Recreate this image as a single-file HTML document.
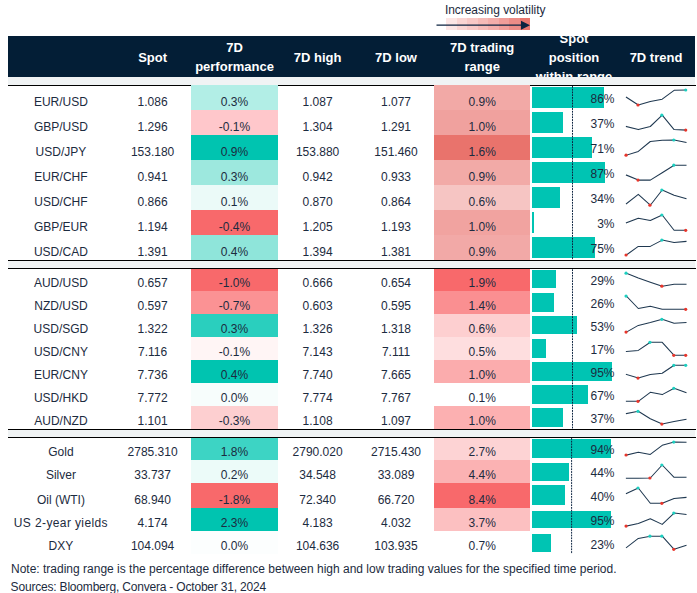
<!DOCTYPE html>
<html><head><meta charset="utf-8"><title>FX table</title>
<style>
html,body{margin:0;padding:0;background:#fff;}
body{width:697px;height:593px;position:relative;overflow:hidden;font-family:"Liberation Sans",sans-serif;color:#1c2b40;}
.c{position:absolute;}
.t{position:absolute;font-size:12px;line-height:14px;height:14px;white-space:nowrap;}
.h{position:absolute;font-size:13px;line-height:19px;font-weight:bold;color:#fff;text-align:center;white-space:nowrap;}
.hl{position:absolute;left:8px;width:688px;height:1.3px;background:#000;}
.gs{position:absolute;left:8px;width:687px;background:#F0F3F4;}
</style></head><body>
<div class="t" style="left:444.9px;top:3px;font-size:12px;color:#1d2a3d;letter-spacing:-0.04px">Increasing volatility</div>
<div class="c" style="left:446.0px;top:17.9px;width:10.6px;height:12.6px;background:#FCE6E5"></div><div class="c" style="left:456.5px;top:17.9px;width:10.6px;height:12.6px;background:#FAD5D3"></div><div class="c" style="left:467.0px;top:17.9px;width:10.6px;height:12.6px;background:#F8C8C6"></div><div class="c" style="left:477.5px;top:17.9px;width:10.6px;height:12.6px;background:#F5BAB7"></div><div class="c" style="left:488.0px;top:17.9px;width:10.6px;height:12.6px;background:#F3ADAA"></div><div class="c" style="left:498.5px;top:17.9px;width:10.6px;height:12.6px;background:#F09D99"></div><div class="c" style="left:509.0px;top:17.9px;width:10.6px;height:12.6px;background:#ED8C87"></div><div class="c" style="left:519.5px;top:17.9px;width:10.6px;height:12.6px;background:#E9766F"></div>
<svg width="110" height="16" viewBox="0 0 110 16" style="position:absolute;left:430px;top:17.3px"><line x1="6.5" y1="8.2" x2="93" y2="8.2" stroke="#0C2340" stroke-width="1.3"/><polygon points="91,3.7 100,8.2 91,12.7" fill="#0C2340"/></svg>
<div class="c" id="hdr" style="left:8px;top:36px;width:687px;height:40.8px;background:#031E36;overflow:hidden">
 <div class="h" style="left:84.6px;top:11.6px;width:120px">Spot</div>
 <div class="h" style="left:166.5px;top:1.5px;width:120px">7D<br>performance</div>
 <div class="h" style="left:249.6px;top:11.6px;width:120px">7D high</div>
 <div class="h" style="left:328px;top:11.6px;width:120px">7D low</div>
 <div class="h" style="left:414.2px;top:1.5px;width:120px">7D trading<br>range</div>
 <div class="h" style="left:506px;top:-7px;width:120px">Spot<br>position<br>within range</div>
 <div class="h" style="left:588px;top:11.6px;width:120px">7D trend</div>
</div>
<div class="gs" style="top:77.4px;height:7.4px"></div>
<div class="hl" style="top:84.9px"></div>
<div class="c" style="left:191px;top:85.20px;width:87px;height:24.97px;background:#B2EEE6"></div>
<div class="c" style="left:434px;top:85.20px;width:95.8px;height:24.97px;background:#F2A9A6"></div>
<div class="c" style="left:532px;top:86.90px;width:72.24px;height:20.80px;background:#00C4B3"></div>
<div class="t" style="left:0.9px;top:95px;width:120px;text-align:center">EUR/USD</div>
<div class="t" style="left:92.6px;top:95px;width:120px;text-align:center">1.086</div>
<div class="t" style="left:174.5px;top:95px;width:120px;text-align:center">0.3%</div>
<div class="t" style="left:257.6px;top:95px;width:120px;text-align:center">1.087</div>
<div class="t" style="left:336.0px;top:95px;width:120px;text-align:center">1.077</div>
<div class="t" style="left:422.2px;top:95px;width:120px;text-align:center">0.9%</div>
<div class="t" style="left:514px;top:92px;width:100.5px;text-align:right">86%</div>
<div class="c" style="left:191px;top:110.17px;width:87px;height:24.97px;background:#FFC7CB"></div>
<div class="c" style="left:434px;top:110.17px;width:95.8px;height:24.97px;background:#F0A19E"></div>
<div class="c" style="left:532px;top:111.90px;width:31.08px;height:20.80px;background:#00C4B3"></div>
<div class="t" style="left:0.9px;top:120px;width:120px;text-align:center">GBP/USD</div>
<div class="t" style="left:92.6px;top:120px;width:120px;text-align:center">1.296</div>
<div class="t" style="left:174.5px;top:120px;width:120px;text-align:center">-0.1%</div>
<div class="t" style="left:257.6px;top:120px;width:120px;text-align:center">1.304</div>
<div class="t" style="left:336.0px;top:120px;width:120px;text-align:center">1.291</div>
<div class="t" style="left:422.2px;top:120px;width:120px;text-align:center">1.0%</div>
<div class="t" style="left:514px;top:117px;width:100.5px;text-align:right">37%</div>
<div class="c" style="left:191px;top:135.14px;width:87px;height:24.97px;background:#00C4B0"></div>
<div class="c" style="left:434px;top:135.14px;width:95.8px;height:24.97px;background:#E9736C"></div>
<div class="c" style="left:532px;top:136.90px;width:59.64px;height:20.80px;background:#00C4B3"></div>
<div class="t" style="left:0.9px;top:145px;width:120px;text-align:center">USD/JPY</div>
<div class="t" style="left:92.6px;top:145px;width:120px;text-align:center">153.180</div>
<div class="t" style="left:174.5px;top:145px;width:120px;text-align:center">0.9%</div>
<div class="t" style="left:257.6px;top:145px;width:120px;text-align:center">153.880</div>
<div class="t" style="left:336.0px;top:145px;width:120px;text-align:center">151.460</div>
<div class="t" style="left:422.2px;top:145px;width:120px;text-align:center">1.6%</div>
<div class="t" style="left:514px;top:142px;width:100.5px;text-align:right">71%</div>
<div class="c" style="left:191px;top:160.11px;width:87px;height:24.97px;background:#9DE8DE"></div>
<div class="c" style="left:434px;top:160.11px;width:95.8px;height:24.97px;background:#F2AAA7"></div>
<div class="c" style="left:532px;top:161.90px;width:73.08px;height:20.80px;background:#00C4B3"></div>
<div class="t" style="left:0.9px;top:170px;width:120px;text-align:center">EUR/CHF</div>
<div class="t" style="left:92.6px;top:170px;width:120px;text-align:center">0.941</div>
<div class="t" style="left:174.5px;top:170px;width:120px;text-align:center">0.3%</div>
<div class="t" style="left:257.6px;top:170px;width:120px;text-align:center">0.942</div>
<div class="t" style="left:336.0px;top:170px;width:120px;text-align:center">0.933</div>
<div class="t" style="left:422.2px;top:170px;width:120px;text-align:center">0.9%</div>
<div class="t" style="left:514px;top:167px;width:100.5px;text-align:right">87%</div>
<div class="c" style="left:191px;top:185.08px;width:87px;height:24.97px;background:#EBFAF8"></div>
<div class="c" style="left:434px;top:185.08px;width:95.8px;height:24.97px;background:#F6C5C3"></div>
<div class="c" style="left:532px;top:186.90px;width:27.90px;height:20.80px;background:#00C4B3"></div>
<div class="t" style="left:0.9px;top:195px;width:120px;text-align:center">USD/CHF</div>
<div class="t" style="left:92.6px;top:195px;width:120px;text-align:center">0.866</div>
<div class="t" style="left:174.5px;top:195px;width:120px;text-align:center">0.1%</div>
<div class="t" style="left:257.6px;top:195px;width:120px;text-align:center">0.870</div>
<div class="t" style="left:336.0px;top:195px;width:120px;text-align:center">0.864</div>
<div class="t" style="left:422.2px;top:195px;width:120px;text-align:center">0.6%</div>
<div class="t" style="left:514px;top:192px;width:100.5px;text-align:right">34%</div>
<div class="c" style="left:191px;top:210.05px;width:87px;height:24.97px;background:#F8696B"></div>
<div class="c" style="left:434px;top:210.05px;width:95.8px;height:24.97px;background:#F1A3A0"></div>
<div class="c" style="left:532px;top:211.90px;width:2.00px;height:20.80px;background:#00C4B3"></div>
<div class="t" style="left:0.9px;top:220px;width:120px;text-align:center">GBP/EUR</div>
<div class="t" style="left:92.6px;top:220px;width:120px;text-align:center">1.194</div>
<div class="t" style="left:174.5px;top:220px;width:120px;text-align:center">-0.4%</div>
<div class="t" style="left:257.6px;top:220px;width:120px;text-align:center">1.205</div>
<div class="t" style="left:336.0px;top:220px;width:120px;text-align:center">1.193</div>
<div class="t" style="left:422.2px;top:220px;width:120px;text-align:center">1.0%</div>
<div class="t" style="left:514px;top:217px;width:100.5px;text-align:right">3%</div>
<div class="c" style="left:191px;top:235.02px;width:87px;height:24.97px;background:#8FE5DA"></div>
<div class="c" style="left:434px;top:235.02px;width:95.8px;height:24.97px;background:#F2A9A7"></div>
<div class="c" style="left:532px;top:236.90px;width:63.00px;height:20.80px;background:#00C4B3"></div>
<div class="t" style="left:0.9px;top:245px;width:120px;text-align:center">USD/CAD</div>
<div class="t" style="left:92.6px;top:245px;width:120px;text-align:center">1.391</div>
<div class="t" style="left:174.5px;top:245px;width:120px;text-align:center">0.4%</div>
<div class="t" style="left:257.6px;top:245px;width:120px;text-align:center">1.394</div>
<div class="t" style="left:336.0px;top:245px;width:120px;text-align:center">1.381</div>
<div class="t" style="left:422.2px;top:245px;width:120px;text-align:center">0.9%</div>
<div class="t" style="left:514px;top:242px;width:100.5px;text-align:right">75%</div>
<div class="c" style="left:191px;top:268.80px;width:87px;height:22.00px;background:#F8696B"></div>
<div class="c" style="left:434px;top:268.80px;width:95.8px;height:22.00px;background:#F8696B"></div>
<div class="c" style="left:532px;top:270.10px;width:24.36px;height:18.20px;background:#00C4B3"></div>
<div class="t" style="left:0.9px;top:276px;width:120px;text-align:center">AUD/USD</div>
<div class="t" style="left:92.6px;top:276px;width:120px;text-align:center">0.657</div>
<div class="t" style="left:174.5px;top:276px;width:120px;text-align:center">-1.0%</div>
<div class="t" style="left:257.6px;top:276px;width:120px;text-align:center">0.666</div>
<div class="t" style="left:336.0px;top:276px;width:120px;text-align:center">0.654</div>
<div class="t" style="left:422.2px;top:276px;width:120px;text-align:center">1.9%</div>
<div class="t" style="left:514px;top:274px;width:100.5px;text-align:right">29%</div>
<div class="c" style="left:191px;top:290.80px;width:87px;height:23.10px;background:#FB9294"></div>
<div class="c" style="left:434px;top:290.80px;width:95.8px;height:23.10px;background:#FA8F91"></div>
<div class="c" style="left:532px;top:293.10px;width:21.84px;height:18.60px;background:#00C4B3"></div>
<div class="t" style="left:0.9px;top:299px;width:120px;text-align:center">NZD/USD</div>
<div class="t" style="left:92.6px;top:299px;width:120px;text-align:center">0.597</div>
<div class="t" style="left:174.5px;top:299px;width:120px;text-align:center">-0.7%</div>
<div class="t" style="left:257.6px;top:299px;width:120px;text-align:center">0.603</div>
<div class="t" style="left:336.0px;top:299px;width:120px;text-align:center">0.595</div>
<div class="t" style="left:422.2px;top:299px;width:120px;text-align:center">1.4%</div>
<div class="t" style="left:514px;top:297px;width:100.5px;text-align:right">26%</div>
<div class="c" style="left:191px;top:313.90px;width:87px;height:23.10px;background:#2ACFBE"></div>
<div class="c" style="left:434px;top:313.90px;width:95.8px;height:23.10px;background:#FDCFD0"></div>
<div class="c" style="left:532px;top:316.20px;width:44.52px;height:18.30px;background:#00C4B3"></div>
<div class="t" style="left:0.9px;top:322px;width:120px;text-align:center">USD/SGD</div>
<div class="t" style="left:92.6px;top:322px;width:120px;text-align:center">1.322</div>
<div class="t" style="left:174.5px;top:322px;width:120px;text-align:center">0.3%</div>
<div class="t" style="left:257.6px;top:322px;width:120px;text-align:center">1.326</div>
<div class="t" style="left:336.0px;top:322px;width:120px;text-align:center">1.318</div>
<div class="t" style="left:422.2px;top:322px;width:120px;text-align:center">0.6%</div>
<div class="t" style="left:514px;top:320px;width:100.5px;text-align:right">53%</div>
<div class="c" style="left:191px;top:337.00px;width:87px;height:23.10px;background:#FFF5F5"></div>
<div class="c" style="left:434px;top:337.00px;width:95.8px;height:23.10px;background:#FEDEDF"></div>
<div class="c" style="left:532px;top:339.30px;width:14.28px;height:18.30px;background:#00C4B3"></div>
<div class="t" style="left:0.9px;top:345px;width:120px;text-align:center">USD/CNY</div>
<div class="t" style="left:92.6px;top:345px;width:120px;text-align:center">7.116</div>
<div class="t" style="left:174.5px;top:345px;width:120px;text-align:center">-0.1%</div>
<div class="t" style="left:257.6px;top:345px;width:120px;text-align:center">7.143</div>
<div class="t" style="left:336.0px;top:345px;width:120px;text-align:center">7.111</div>
<div class="t" style="left:422.2px;top:345px;width:120px;text-align:center">0.5%</div>
<div class="t" style="left:514px;top:343px;width:100.5px;text-align:right">17%</div>
<div class="c" style="left:191px;top:360.10px;width:87px;height:23.10px;background:#00C4B0"></div>
<div class="c" style="left:434px;top:360.10px;width:95.8px;height:23.10px;background:#FBACAD"></div>
<div class="c" style="left:532px;top:362.40px;width:79.80px;height:18.20px;background:#00C4B3"></div>
<div class="t" style="left:0.9px;top:368px;width:120px;text-align:center">EUR/CNY</div>
<div class="t" style="left:92.6px;top:368px;width:120px;text-align:center">7.736</div>
<div class="t" style="left:174.5px;top:368px;width:120px;text-align:center">0.4%</div>
<div class="t" style="left:257.6px;top:368px;width:120px;text-align:center">7.740</div>
<div class="t" style="left:336.0px;top:368px;width:120px;text-align:center">7.665</div>
<div class="t" style="left:422.2px;top:368px;width:120px;text-align:center">1.0%</div>
<div class="t" style="left:514px;top:366px;width:100.5px;text-align:right">95%</div>
<div class="c" style="left:191px;top:383.20px;width:87px;height:23.10px;background:#F7FDFC"></div>
<div class="c" style="left:434px;top:383.20px;width:95.8px;height:23.10px;background:#FFFFFF"></div>
<div class="c" style="left:532px;top:385.40px;width:56.28px;height:18.30px;background:#00C4B3"></div>
<div class="t" style="left:0.9px;top:391px;width:120px;text-align:center">USD/HKD</div>
<div class="t" style="left:92.6px;top:391px;width:120px;text-align:center">7.772</div>
<div class="t" style="left:174.5px;top:391px;width:120px;text-align:center">0.0%</div>
<div class="t" style="left:257.6px;top:391px;width:120px;text-align:center">7.774</div>
<div class="t" style="left:336.0px;top:391px;width:120px;text-align:center">7.767</div>
<div class="t" style="left:422.2px;top:391px;width:120px;text-align:center">0.1%</div>
<div class="t" style="left:514px;top:389px;width:100.5px;text-align:right">67%</div>
<div class="c" style="left:191px;top:406.30px;width:87px;height:22.70px;background:#FDCFD0"></div>
<div class="c" style="left:434px;top:406.30px;width:95.8px;height:22.70px;background:#FCB0B1"></div>
<div class="c" style="left:532px;top:408.20px;width:31.08px;height:18.60px;background:#00C4B3"></div>
<div class="t" style="left:0.9px;top:414px;width:120px;text-align:center">AUD/NZD</div>
<div class="t" style="left:92.6px;top:414px;width:120px;text-align:center">1.101</div>
<div class="t" style="left:174.5px;top:414px;width:120px;text-align:center">-0.3%</div>
<div class="t" style="left:257.6px;top:414px;width:120px;text-align:center">1.108</div>
<div class="t" style="left:336.0px;top:414px;width:120px;text-align:center">1.097</div>
<div class="t" style="left:422.2px;top:414px;width:120px;text-align:center">1.0%</div>
<div class="t" style="left:514px;top:412px;width:100.5px;text-align:right">37%</div>
<div class="c" style="left:191px;top:437.90px;width:87px;height:21.90px;background:#3DD4C4"></div>
<div class="c" style="left:434px;top:437.90px;width:95.8px;height:21.90px;background:#FDD3D4"></div>
<div class="c" style="left:532px;top:439.30px;width:78.80px;height:18.30px;background:#00C4B3"></div>
<div class="t" style="left:0.9px;top:445px;width:120px;text-align:center">Gold</div>
<div class="t" style="left:92.6px;top:445px;width:120px;text-align:center">2785.310</div>
<div class="t" style="left:174.5px;top:445px;width:120px;text-align:center">1.8%</div>
<div class="t" style="left:257.6px;top:445px;width:120px;text-align:center">2790.020</div>
<div class="t" style="left:336.0px;top:445px;width:120px;text-align:center">2715.430</div>
<div class="t" style="left:422.2px;top:445px;width:120px;text-align:center">2.7%</div>
<div class="t" style="left:514px;top:443px;width:100.5px;text-align:right">94%</div>
<div class="c" style="left:191px;top:459.80px;width:87px;height:23.20px;background:#ECFBF9"></div>
<div class="c" style="left:434px;top:459.80px;width:95.8px;height:23.20px;background:#FBB2B3"></div>
<div class="c" style="left:532px;top:462.60px;width:36.96px;height:18.10px;background:#00C4B3"></div>
<div class="t" style="left:0.9px;top:468px;width:120px;text-align:center">Silver</div>
<div class="t" style="left:92.6px;top:468px;width:120px;text-align:center">33.737</div>
<div class="t" style="left:174.5px;top:468px;width:120px;text-align:center">0.2%</div>
<div class="t" style="left:257.6px;top:468px;width:120px;text-align:center">34.548</div>
<div class="t" style="left:336.0px;top:468px;width:120px;text-align:center">33.089</div>
<div class="t" style="left:422.2px;top:468px;width:120px;text-align:center">4.4%</div>
<div class="t" style="left:514px;top:466px;width:100.5px;text-align:right">44%</div>
<div class="c" style="left:191px;top:483.00px;width:87px;height:24.70px;background:#F8696B"></div>
<div class="c" style="left:434px;top:483.00px;width:95.8px;height:24.70px;background:#F8696B"></div>
<div class="c" style="left:532px;top:485.40px;width:32.90px;height:20.10px;background:#00C4B3"></div>
<div class="t" style="left:0.9px;top:493px;width:120px;text-align:center">Oil (WTI)</div>
<div class="t" style="left:92.6px;top:493px;width:120px;text-align:center">68.940</div>
<div class="t" style="left:174.5px;top:493px;width:120px;text-align:center">-1.8%</div>
<div class="t" style="left:257.6px;top:493px;width:120px;text-align:center">72.340</div>
<div class="t" style="left:336.0px;top:493px;width:120px;text-align:center">66.720</div>
<div class="t" style="left:422.2px;top:493px;width:120px;text-align:center">8.4%</div>
<div class="t" style="left:514px;top:490px;width:100.5px;text-align:right">40%</div>
<div class="c" style="left:191px;top:507.70px;width:87px;height:23.30px;background:#00C4B0"></div>
<div class="c" style="left:434px;top:507.70px;width:95.8px;height:23.30px;background:#FCC0C1"></div>
<div class="c" style="left:532px;top:510.70px;width:78.80px;height:17.80px;background:#00C4B3"></div>
<div class="t" style="left:0.9px;top:516px;width:120px;text-align:center"><span style="letter-spacing:0.38px">US 2-year yields</span></div>
<div class="t" style="left:92.6px;top:516px;width:120px;text-align:center">4.174</div>
<div class="t" style="left:174.5px;top:516px;width:120px;text-align:center">2.3%</div>
<div class="t" style="left:257.6px;top:516px;width:120px;text-align:center">4.183</div>
<div class="t" style="left:336.0px;top:516px;width:120px;text-align:center">4.032</div>
<div class="t" style="left:422.2px;top:516px;width:120px;text-align:center">3.7%</div>
<div class="t" style="left:514px;top:514px;width:100.5px;text-align:right">95%</div>
<div class="c" style="left:191px;top:531.00px;width:87px;height:22.80px;background:#FCFEFE"></div>
<div class="c" style="left:434px;top:531.00px;width:95.8px;height:22.80px;background:#FFFFFF"></div>
<div class="c" style="left:532px;top:533.50px;width:19.32px;height:18.40px;background:#00C4B3"></div>
<div class="t" style="left:0.9px;top:539px;width:120px;text-align:center">DXY</div>
<div class="t" style="left:92.6px;top:539px;width:120px;text-align:center">104.094</div>
<div class="t" style="left:174.5px;top:539px;width:120px;text-align:center">0.0%</div>
<div class="t" style="left:257.6px;top:539px;width:120px;text-align:center">104.636</div>
<div class="t" style="left:336.0px;top:539px;width:120px;text-align:center">103.935</div>
<div class="t" style="left:422.2px;top:539px;width:120px;text-align:center">0.7%</div>
<div class="t" style="left:514px;top:538px;width:100.5px;text-align:right">23%</div>
<div class="hl" style="top:259.9px"></div>
<div class="gs" style="top:261.3px;height:6.5px"></div>
<div class="hl" style="top:267.9px"></div>
<div class="hl" style="top:428.9px"></div>
<div class="gs" style="top:430.3px;height:6.6px"></div>
<div class="hl" style="top:436.7px"></div>
<svg width="697" height="593" viewBox="0 0 697 593" style="position:absolute;left:0;top:0"><g stroke="#0C2340" stroke-width="1" stroke-dasharray="1.8 0.96"><line x1="572.5" y1="86" x2="572.5" y2="260"/><line x1="572.5" y1="269.3" x2="572.5" y2="429"/><line x1="571.6" y1="438" x2="571.6" y2="554"/></g></svg>
<svg class="sp" width="697" height="593" viewBox="0 0 697 593" style="position:absolute;left:0;top:0">
<polyline points="626.4,97.3 638.3,105.0 650.3,101.4 662.2,99.2 674.1,90.3 686.0,90.0" fill="none" stroke="#1F3850" stroke-width="1.05" stroke-linejoin="round" stroke-linecap="square"/>
<circle cx="637.98" cy="105.0" r="1.6" fill="#E8352B"/>
<circle cx="685.70" cy="90.0" r="1.6" fill="#1CCFC0"/>
<polyline points="626.4,126.5 638.3,129.6 650.3,126.5 662.2,115.2 674.1,129.6 686.0,130.1" fill="none" stroke="#1F3850" stroke-width="1.05" stroke-linejoin="round" stroke-linecap="square"/>
<circle cx="685.70" cy="130.1" r="1.6" fill="#E8352B"/>
<circle cx="661.84" cy="115.2" r="1.6" fill="#1CCFC0"/>
<polyline points="626.4,155.2 638.3,151.4 650.3,141.5 662.2,140.3 674.1,140.0 686.0,142.5" fill="none" stroke="#1F3850" stroke-width="1.05" stroke-linejoin="round" stroke-linecap="square"/>
<circle cx="626.05" cy="155.2" r="1.6" fill="#E8352B"/>
<circle cx="673.77" cy="140.0" r="1.6" fill="#1CCFC0"/>
<polyline points="626.4,175.1 638.3,180.1 650.3,180.1 662.2,172.8 674.1,165.2 686.0,165.2" fill="none" stroke="#1F3850" stroke-width="1.05" stroke-linejoin="round" stroke-linecap="square"/>
<circle cx="637.98" cy="180.1" r="1.6" fill="#E8352B"/>
<circle cx="673.77" cy="165.2" r="1.6" fill="#1CCFC0"/>
<polyline points="626.4,203.7 638.3,194.3 650.3,205.2 662.2,190.0 674.1,195.2 686.0,198.6" fill="none" stroke="#1F3850" stroke-width="1.05" stroke-linejoin="round" stroke-linecap="square"/>
<circle cx="649.91" cy="205.2" r="1.6" fill="#E8352B"/>
<circle cx="661.84" cy="190.0" r="1.6" fill="#1CCFC0"/>
<polyline points="626.4,222.7 638.3,218.2 650.3,220.5 662.2,215.0 674.1,230.3 686.0,230.3" fill="none" stroke="#1F3850" stroke-width="1.05" stroke-linejoin="round" stroke-linecap="square"/>
<circle cx="685.70" cy="230.3" r="1.6" fill="#E8352B"/>
<circle cx="661.84" cy="215.0" r="1.6" fill="#1CCFC0"/>
<polyline points="626.4,255.0 638.3,246.4 650.3,246.4 662.2,240.1 674.1,242.4 686.0,241.4" fill="none" stroke="#1F3850" stroke-width="1.05" stroke-linejoin="round" stroke-linecap="square"/>
<circle cx="626.05" cy="255.0" r="1.6" fill="#E8352B"/>
<circle cx="661.84" cy="240.1" r="1.6" fill="#1CCFC0"/>
<polyline points="626.4,273.2 638.3,278.0 650.3,282.2 662.2,286.2 674.1,284.2 686.0,284.2" fill="none" stroke="#1F3850" stroke-width="1.05" stroke-linejoin="round" stroke-linecap="square"/>
<circle cx="661.84" cy="286.2" r="1.6" fill="#E8352B"/>
<circle cx="626.05" cy="273.2" r="1.6" fill="#1CCFC0"/>
<polyline points="626.4,296.1 638.3,308.5 650.3,306.3 662.2,309.3 674.1,309.3 686.0,309.3" fill="none" stroke="#1F3850" stroke-width="1.05" stroke-linejoin="round" stroke-linecap="square"/>
<circle cx="685.70" cy="309.3" r="1.6" fill="#E8352B"/>
<circle cx="626.05" cy="296.1" r="1.6" fill="#1CCFC0"/>
<polyline points="626.4,332.1 638.3,325.4 650.3,322.5 662.2,319.3 674.1,323.3 686.0,322.5" fill="none" stroke="#1F3850" stroke-width="1.05" stroke-linejoin="round" stroke-linecap="square"/>
<circle cx="626.05" cy="332.1" r="1.6" fill="#E8352B"/>
<circle cx="661.84" cy="319.3" r="1.6" fill="#1CCFC0"/>
<polyline points="626.4,351.5 638.3,350.4 650.3,342.3 662.2,342.3 674.1,355.3 686.0,355.3" fill="none" stroke="#1F3850" stroke-width="1.05" stroke-linejoin="round" stroke-linecap="square"/>
<circle cx="673.77" cy="355.3" r="1.6" fill="#E8352B"/>
<circle cx="685.70" cy="355.3" r="1.6" fill="#E8352B"/>
<circle cx="649.91" cy="342.3" r="1.6" fill="#1CCFC0"/>
<polyline points="626.4,374.5 638.3,378.1 650.3,374.5 662.2,373.3 674.1,365.3 686.0,365.3" fill="none" stroke="#1F3850" stroke-width="1.05" stroke-linejoin="round" stroke-linecap="square"/>
<circle cx="637.98" cy="378.1" r="1.6" fill="#E8352B"/>
<circle cx="673.77" cy="365.3" r="1.6" fill="#1CCFC0"/>
<circle cx="685.70" cy="365.3" r="1.6" fill="#1CCFC0"/>
<polyline points="626.4,401.3 638.3,401.3 650.3,392.3 662.2,394.6 674.1,388.3 686.0,392.6" fill="none" stroke="#1F3850" stroke-width="1.05" stroke-linejoin="round" stroke-linecap="square"/>
<circle cx="637.98" cy="401.3" r="1.6" fill="#E8352B"/>
<circle cx="673.77" cy="388.3" r="1.6" fill="#1CCFC0"/>
<polyline points="626.4,413.6 638.3,411.3 650.3,418.7 662.2,424.1 674.1,421.6 686.0,419.3" fill="none" stroke="#1F3850" stroke-width="1.05" stroke-linejoin="round" stroke-linecap="square"/>
<circle cx="661.84" cy="424.1" r="1.6" fill="#E8352B"/>
<circle cx="637.98" cy="411.3" r="1.6" fill="#1CCFC0"/>
<polyline points="626.4,455.0 638.3,452.2 650.3,454.4 662.2,445.3 674.1,442.1 686.0,442.3" fill="none" stroke="#1F3850" stroke-width="1.05" stroke-linejoin="round" stroke-linecap="square"/>
<circle cx="626.05" cy="455.0" r="1.6" fill="#E8352B"/>
<circle cx="673.77" cy="442.1" r="1.6" fill="#1CCFC0"/>
<polyline points="626.4,478.3 638.3,478.3 650.3,478.0 662.2,465.0 674.1,477.3 686.0,477.3" fill="none" stroke="#1F3850" stroke-width="1.05" stroke-linejoin="round" stroke-linecap="square"/>
<circle cx="649.91" cy="478.0" r="1.6" fill="#E8352B"/>
<circle cx="661.84" cy="465.0" r="1.6" fill="#1CCFC0"/>
<polyline points="626.4,493.5 638.3,488.0 650.3,503.3 662.2,503.3 674.1,498.4 686.0,497.4" fill="none" stroke="#1F3850" stroke-width="1.05" stroke-linejoin="round" stroke-linecap="square"/>
<circle cx="661.84" cy="503.3" r="1.6" fill="#E8352B"/>
<circle cx="637.98" cy="488.0" r="1.6" fill="#1CCFC0"/>
<polyline points="626.4,526.1 638.3,523.4 650.3,518.7 662.2,524.4 674.1,513.1 686.0,514.4" fill="none" stroke="#1F3850" stroke-width="1.05" stroke-linejoin="round" stroke-linecap="square"/>
<circle cx="626.05" cy="526.1" r="1.6" fill="#E8352B"/>
<circle cx="673.77" cy="513.1" r="1.6" fill="#1CCFC0"/>
<polyline points="626.4,547.6 638.3,538.4 650.3,536.2 662.2,536.2 674.1,549.3 686.0,545.4" fill="none" stroke="#1F3850" stroke-width="1.05" stroke-linejoin="round" stroke-linecap="square"/>
<circle cx="673.77" cy="549.3" r="1.6" fill="#E8352B"/>
<circle cx="649.91" cy="536.2" r="1.6" fill="#1CCFC0"/>
<circle cx="661.84" cy="536.2" r="1.6" fill="#1CCFC0"/>
</svg>
<div class="t" style="left:11px;top:562px">Note: trading range is the percentage difference between high and low trading values for the specified time period.</div>
<div class="t" style="left:10.6px;top:580px;letter-spacing:-0.19px">Sources: Bloomberg, Convera - October 31, 2024</div>
</body></html>
